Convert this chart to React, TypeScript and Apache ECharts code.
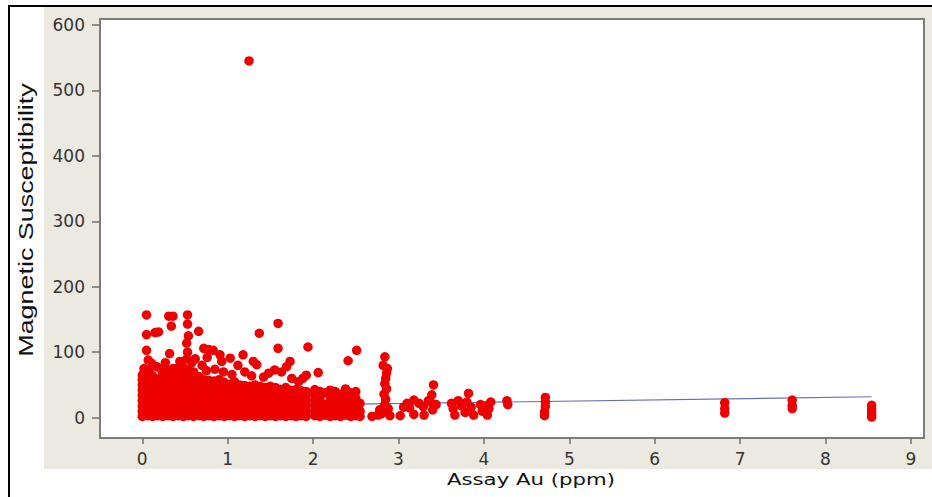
import React, { useEffect, useRef } from "react";
import * as echarts from "echarts";

// Axis tick values
const xTicks = [0, 1, 2, 3, 4, 5, 6, 7, 8, 9];
const yTicks = [0, 100, 200, 300, 400, 500, 600];

// Dense cluster (Au < 2 ppm): one column of readings per Au value
const denseX = [
  0.0, 0.06, 0.12, 0.18, 0.24, 0.3, 0.36, 0.42, 0.48, 0.54, 0.6, 0.66, 0.72, 0.78, 0.84, 0.9, 0.96,
  1.02, 1.08, 1.14, 1.2, 1.26, 1.32, 1.38, 1.44, 1.5, 1.56, 1.62, 1.68, 1.74, 1.8, 1.86, 1.92,
];
const denseY = [
  [2, 10, 18, 26, 34, 42, 50, 58, 65],
  [3, 11, 19, 27, 35, 43, 51, 60],
  [2, 9, 17, 25, 33, 41, 49, 57, 64],
  [3, 11, 19, 27, 35, 43, 51, 59],
  [2, 10, 18, 26, 34, 42, 50, 58, 66],
  [3, 11, 19, 27, 35, 43, 51, 59, 67, 73],
  [2, 10, 18, 26, 34, 42, 50, 58, 66, 75],
  [3, 11, 19, 27, 35, 43, 51, 59, 67, 76],
  [2, 10, 18, 26, 34, 42, 50, 58, 66, 77],
  [3, 11, 19, 27, 35, 43, 51, 59, 67, 73],
  [2, 10, 18, 26, 34, 42, 50, 58, 66, 70],
  [3, 11, 19, 27, 35, 43, 51, 59, 63],
  [2, 10, 18, 26, 34, 42, 50, 58],
  [3, 11, 19, 27, 35, 43, 51, 57],
  [2, 10, 18, 26, 34, 42, 50, 56],
  [3, 11, 19, 27, 35, 43, 51, 58],
  [2, 10, 18, 26, 34, 42, 50, 54],
  [3, 11, 19, 27, 35, 43, 51],
  [2, 10, 18, 26, 34, 42, 50, 55],
  [3, 11, 19, 27, 35, 43, 50],
  [2, 10, 18, 26, 34, 42, 49],
  [3, 11, 19, 27, 35, 43, 48],
  [2, 10, 18, 26, 34, 42, 50],
  [3, 11, 19, 27, 35, 43, 48],
  [2, 10, 18, 26, 34, 42, 46],
  [3, 11, 19, 27, 35, 43, 48],
  [2, 10, 18, 26, 34, 42, 46],
  [3, 11, 19, 27, 35, 43],
  [2, 10, 18, 26, 34, 42, 46],
  [3, 11, 19, 27, 35, 42],
  [2, 10, 18, 26, 34, 43],
  [3, 11, 19, 27, 35, 41],
  [2, 10, 18, 26, 34, 40],
];

// Scattered readings above the dense cluster
const upperPoints: [number, number][] = [
  [0.05, 157], [0.31, 155], [0.36, 155], [0.53, 157], [0.34, 140], [0.53, 143],
  [0.05, 127], [0.15, 130], [0.19, 131], [0.54, 125], [0.66, 132], [0.52, 114],
  [0.53, 100], [0.52, 90], [1.59, 144], [1.37, 129], [1.59, 106], [1.94, 108],
  [2.51, 103], [2.41, 87], [0.32, 98], [0.05, 103], [0.07, 88], [0.11, 83],
  [0.17, 78], [0.72, 106], [0.83, 103], [0.91, 96], [0.93, 86], [1.03, 91],
  [0.78, 104], [0.76, 92], [1.18, 96], [1.3, 86], [1.34, 81], [1.73, 86],
  [1.69, 78], [1.55, 73], [1.63, 70], [1.92, 65], [2.06, 69], [1.25, 545],
  [0.7, 80], [0.75, 72], [0.85, 74], [0.95, 70], [1.05, 66], [1.12, 80],
  [1.2, 70], [1.28, 64], [1.42, 62], [1.48, 68], [1.75, 60], [1.83, 55],
  [1.88, 60], [0.02, 75], [0.08, 72], [0.22, 74], [0.27, 84], [0.44, 86],
  [0.58, 84], [0.62, 90],
];

// Readings between 2 and 4.3 ppm
const midPoints: [number, number][] = [
  [2.02, 3], [2.02, 11], [2.02, 19], [2.02, 27], [2.02, 35], [2.02, 43],
  [2.08, 2], [2.08, 10], [2.08, 18], [2.08, 30], [2.08, 40],
  [2.14, 4], [2.14, 12], [2.14, 20], [2.14, 38],
  [2.2, 2], [2.2, 10], [2.2, 18], [2.2, 26], [2.2, 34], [2.2, 42],
  [2.26, 3], [2.26, 11], [2.26, 22], [2.26, 31], [2.26, 40],
  [2.32, 2], [2.32, 12], [2.32, 20], [2.32, 28], [2.32, 36],
  [2.38, 4], [2.38, 10], [2.38, 18], [2.38, 26], [2.38, 34], [2.38, 44],
  [2.44, 2], [2.44, 10], [2.44, 18], [2.44, 27], [2.44, 38],
  [2.5, 3], [2.5, 12], [2.5, 20], [2.5, 30], [2.5, 40],
  [2.55, 2], [2.55, 10], [2.55, 22],
  [2.69, 2],
  [2.76, 4], [2.78, 12], [2.8, 6], [2.84, 20], [2.85, 28], [2.83, 36], [2.86, 44],
  [2.84, 52], [2.85, 60], [2.86, 68], [2.87, 75], [2.82, 80], [2.84, 93], [2.88, 14], [2.9, 3],
  [3.02, 3], [3.06, 16], [3.1, 22], [3.13, 15], [3.18, 27], [3.18, 5], [3.24, 22],
  [3.29, 17], [3.3, 4], [3.35, 26], [3.37, 24], [3.39, 35], [3.41, 50], [3.4, 12], [3.44, 20],
  [3.62, 22], [3.64, 14], [3.66, 4], [3.7, 26], [3.74, 18], [3.78, 8], [3.8, 24],
  [3.82, 37], [3.85, 16], [3.88, 4],
  [3.96, 20], [3.98, 10], [4.02, 18], [4.04, 4], [4.06, 14], [4.08, 24],
  [4.27, 26], [4.28, 20],
];

// Readings above 4.5 ppm
const highPoints: [number, number][] = [
  [4.72, 31], [4.72, 24], [4.72, 17], [4.71, 9], [4.71, 3],
  [6.82, 23], [6.82, 14], [6.82, 7],
  [7.61, 27], [7.61, 19], [7.61, 14],
  [8.54, 19], [8.54, 14], [8.54, 9], [8.54, 4], [8.54, 1],
];

// Fitted trend line end points
const trendX = [0, 8.54];
const trendY = [16, 32];

export default function App() {
  const ref = useRef<HTMLDivElement>(null);

  useEffect(() => {
    document.body.style.margin = "0";
    if (!ref.current) return;
    const chart = echarts.init(ref.current, undefined, { renderer: "svg" });

    const densePoints: [number, number][] = [];
    denseX.forEach((x, i) => denseY[i].forEach((y) => densePoints.push([x, y])));
    const allPoints = [...densePoints, ...upperPoints, ...midPoints, ...highPoints];

    const labelStyle = {
      fontFamily: "DejaVu Sans",
      fontSize: 17,
      color: "#333",
    };

    chart.setOption({
      animation: false,
      backgroundColor: "#ffffff",
      graphic: [
        {
          type: "rect",
          z: -10,
          shape: { x: 44, y: 7, width: 888, height: 462 },
          style: { fill: "#ece9e0" },
          silent: true,
        },
        {
          type: "rect",
          z: -9,
          shape: { x: 9, y: 6, width: 950, height: 520 },
          style: { fill: "none", stroke: "#000", lineWidth: 2 },
          silent: true,
        },
        {
          type: "text",
          x: 26,
          y: 220,
          rotation: Math.PI / 2,
          scaleX: 1.38,
          scaleY: 1,
          style: {
            text: "Magnetic Susceptibility",
            fontFamily: "Liberation Sans",
            fontSize: 19.5,
            fill: "#111",
            textAlign: "center",
            textVerticalAlign: "middle",
            align: "center",
            verticalAlign: "middle",
          },
        },
        {
          type: "text",
          x: 531,
          y: 479,
          scaleX: 1.33,
          scaleY: 1,
          style: {
            text: "Assay Au (ppm)",
            fontFamily: "DejaVu Sans",
            fontSize: 16,
            fill: "#111",
            textAlign: "center",
            textVerticalAlign: "middle",
            align: "center",
            verticalAlign: "middle",
          },
        },
      ],
      grid: {
        left: 100,
        top: 19,
        width: 824,
        height: 419,
        show: true,
        backgroundColor: "#ffffff",
        borderColor: "#7d7d7d",
        borderWidth: 2,
      },
      xAxis: {
        type: "value",
        min: -0.495,
        max: 9.153,
        axisLine: { show: false, onZero: false },
        splitLine: { show: false },
        axisTick: {
          show: true,
          length: 6,
          customValues: xTicks,
          lineStyle: { color: "#6e6e6e", width: 1.5 },
        },
        axisLabel: { ...labelStyle, margin: 12, customValues: xTicks },
      },
      yAxis: {
        type: "value",
        min: -31,
        max: 609,
        axisLine: { show: false, onZero: false },
        splitLine: { show: false },
        axisTick: {
          show: true,
          length: 8,
          customValues: yTicks,
          lineStyle: { color: "#6e6e6e", width: 1.5 },
        },
        axisLabel: { ...labelStyle, margin: 15, customValues: yTicks },
      },
      series: [
        {
          type: "line",
          data: trendX.map((x, i) => [x, trendY[i]]),
          symbol: "none",
          lineStyle: { color: "#6d6db4", width: 1.2 },
          z: 1,
        },
        {
          type: "scatter",
          data: allPoints,
          symbol: "circle",
          symbolSize: 9.5,
          itemStyle: { color: "#ec0000", opacity: 1 },
          z: 2,
        },
      ],
    });

    return () => chart.dispose();
  }, []);

  return <div ref={ref} style={{ width: 932, height: 497 }} />;
}
